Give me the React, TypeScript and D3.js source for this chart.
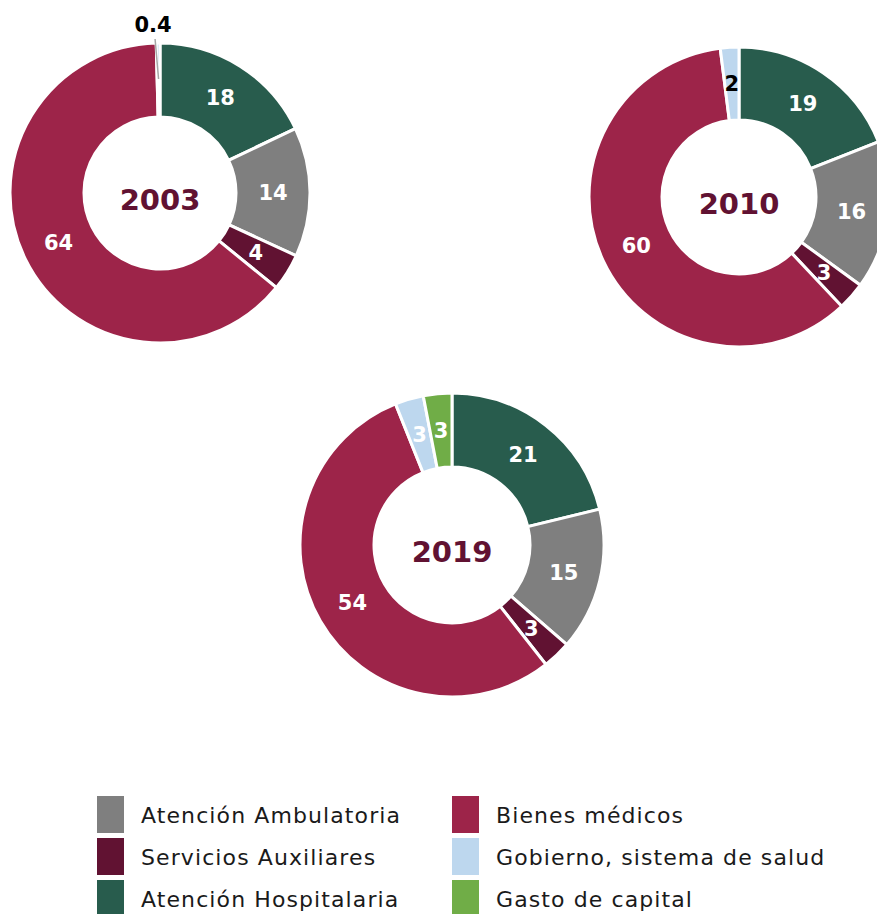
import React, { useEffect } from "react";
import * as d3 from "d3";

const categories = [
  "Atención Hospitalaria",
  "Atención Ambulatoria",
  "Servicios Auxiliares",
  "Bienes médicos",
  "Gobierno, sistema de salud",
  "Gasto de capital",
];
const colors = ["#285C4D", "#7F7F7F", "#611232", "#9D2449", "#BDD7EE", "#70AD47"];
const years = ["2003", "2010", "2019"];
const values2003 = [18, 14, 4, 64, 0.4, 0];
const values2010 = [19, 16, 3, 60, 2, 0];
const values2019 = [21, 15, 3, 54, 3, 3];
const labels2003 = ["18", "14", "4", "64", "0.4", ""];
const labels2010 = ["19", "16", "3", "60", "2", ""];
const labels2019 = ["21", "15", "3", "54", "3", "3"];

const legendOrder = [
  ["Atención Ambulatoria", "Bienes médicos"],
  ["Servicios Auxiliares", "Gobierno, sistema de salud"],
  ["Atención Hospitalaria", "Gasto de capital"],
];

const W = 877;
const H = 914;
const FONT = "'DejaVu Sans', sans-serif";

type DonutProps = {
  cx: number;
  cy: number;
  r0: number;
  r1: number;
  values: number[];
  labels: string[];
  year: string;
  outsideIdx?: number;
  darkIdx?: number;
};

function Donut({ cx, cy, r0, r1, values, labels, year, outsideIdx, darkIdx }: DonutProps) {
  const data = values.map((v, i) => ({ v, i }));
  const pie = d3
    .pie<{ v: number; i: number }>()
    .value((d) => d.v)
    .sort(null)
    .startAngle(0)
    .endAngle(2 * Math.PI);
  const arcs = pie(data);
  const arc = d3.arc<d3.PieArcDatum<{ v: number; i: number }>>().innerRadius(r0).outerRadius(r1);
  const labelArc = d3
    .arc<d3.PieArcDatum<{ v: number; i: number }>>()
    .innerRadius((r0 + r1) / 2)
    .outerRadius((r0 + r1) / 2);
  return (
    <g transform={`translate(${cx},${cy})`}>
      {arcs
        .filter((a) => a.data.v > 0)
        .map((a) => (
          <path
            key={a.data.i}
            d={arc(a) || ""}
            fill={colors[a.data.i]}
            stroke="#fff"
            strokeWidth={3}
            strokeLinejoin="miter"
          />
        ))}
      {arcs
        .filter((a) => a.data.v > 0)
        .map((a) => {
          const i = a.data.i;
          if (i === outsideIdx) {
            const mid = (a.startAngle + a.endAngle) / 2;
            const p1 = [Math.sin(mid) * (r1 - 36), -Math.cos(mid) * (r1 - 36)];
            const p2 = [Math.sin(mid) * (r1 + 4) - 3, -Math.cos(mid) * (r1 + 4)];
            return (
              <g key={"l" + i}>
                <line x1={p1[0]} y1={p1[1]} x2={p2[0]} y2={p2[1]} stroke="#A6A6A6" strokeWidth={1.5} />
                <text
                  x={p2[0] - 2}
                  y={p2[1] - 7}
                  textAnchor="middle"
                  fontFamily={FONT}
                  fontWeight={700}
                  fontSize={21}
                  fill="#000"
                >
                  {labels[i]}
                </text>
              </g>
            );
          }
          const [x, y] = labelArc.centroid(a);
          return (
            <text
              key={"l" + i}
              x={x}
              y={y}
              dy="0.36em"
              textAnchor="middle"
              fontFamily={FONT}
              fontWeight={700}
              fontSize={21}
              fill={i === darkIdx ? "#000" : "#fff"}
            >
              {labels[i]}
            </text>
          );
        })}
      <text
        x={0}
        y={7}
        dy="0.36em"
        textAnchor="middle"
        fontFamily={FONT}
        fontWeight={700}
        fontSize={29}
        fill="#611232"
      >
        {year}
      </text>
    </g>
  );
}

export default function App() {
  useEffect(() => {
    document.body.style.margin = "0";
  }, []);
  const colorOf = (name: string) => colors[categories.indexOf(name)];
  const legendCols = [97, 452];
  const legendRows = [796, 838, 880];
  return (
    <svg width={W} height={H} style={{ display: "block", background: "#fff" }}>
      <Donut cx={160} cy={193} r0={76} r1={150} values={values2003} labels={labels2003} year={years[0]} outsideIdx={4} />
      <Donut cx={739} cy={197} r0={77} r1={150} values={values2010} labels={labels2010} year={years[1]} darkIdx={4} />
      <Donut cx={452} cy={545} r0={78} r1={152} values={values2019} labels={labels2019} year={years[2]} />
      {legendOrder.map((row, ri) =>
        row.map((name, ci) => (
          <g key={name} transform={`translate(${legendCols[ci]},${legendRows[ri]})`}>
            <rect x={0} y={0} width={27} height={37} fill={colorOf(name)} />
            <text x={44} y={27} fontFamily={FONT} fontSize={22} letterSpacing={1.1} fill="#1a1a1a">
              {name}
            </text>
          </g>
        ))
      )}
    </svg>
  );
}
